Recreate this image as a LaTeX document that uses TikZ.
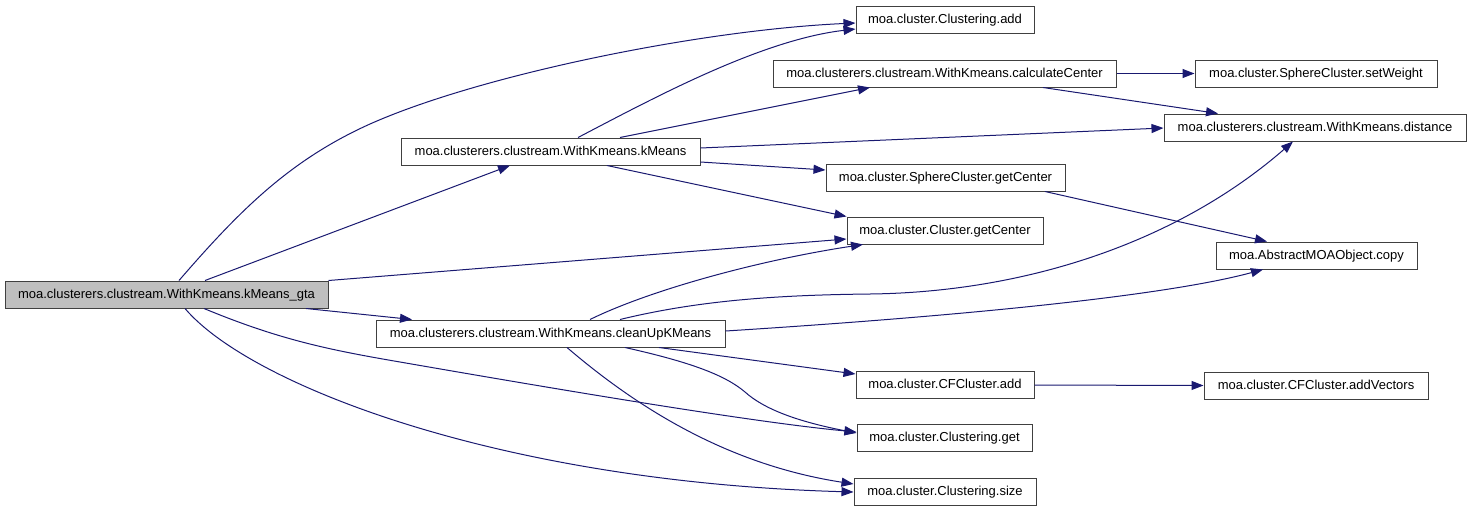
\documentclass[tikz,border=0pt]{standalone}
\usepackage{fontspec}
\setmainfont{Liberation Sans}
\usetikzlibrary{arrows.meta}
\definecolor{edgec}{HTML}{191970}
\definecolor{rootfill}{HTML}{BFBFBF}
\begin{document}
\begin{tikzpicture}[x=1pt,y=-1pt,
  box/.style={draw=black!75,line width=1pt,fill=white,inner sep=0pt,minimum height=27pt,
    text height=10pt,text depth=3pt,font=\fontsize{13}{15}\selectfont},
  root/.style={box,fill=rootfill},
  call/.style={draw=edgec,line width=1pt,-{Triangle[length=12pt,width=9pt]}}]
\useasboundingbox (0,0) rectangle (1472,512);
% nodes
\node[root,minimum width=323pt] (gta) at (166.5,294.5) {moa.clusterers.clustream.WithKmeans.kMeans\_gta};
\node[box,minimum width=178pt] (cadd) at (945,19.5) {moa.cluster.Clustering.add};
\node[box,minimum width=343pt] (calc) at (944.5,73.5) {moa.clusterers.clustream.WithKmeans.calculateCenter};
\node[box,minimum width=242pt] (setw) at (1316,73.5) {moa.cluster.SphereCluster.setWeight};
\node[box,minimum width=299pt] (kmeans) at (550.5,151.5) {moa.clusterers.clustream.WithKmeans.kMeans};
\node[box,minimum width=302pt] (dist) at (1315,127.5) {moa.clusterers.clustream.WithKmeans.distance};
\node[box,minimum width=239pt] (sgc) at (945.5,177.5) {moa.cluster.SphereCluster.getCenter};
\node[box,minimum width=196pt] (cgc) at (945,230.5) {moa.cluster.Cluster.getCenter};
\node[box,minimum width=201pt] (copy) at (1316.5,255.5) {moa.AbstractMOAObject.copy};
\node[box,minimum width=349pt] (clean) at (550.5,333.5) {moa.clusterers.clustream.WithKmeans.cleanUpKMeans};
\node[box,minimum width=178pt] (cfadd) at (945,385) {moa.cluster.CFCluster.add};
\node[box,minimum width=175pt] (cget) at (944.5,438) {moa.cluster.Clustering.get};
\node[box,minimum width=182pt] (csize) at (945,492) {moa.cluster.Clustering.size};
\node[box,minimum width=224pt] (addv) at (1316,385.5) {moa.cluster.CFCluster.addVectors};
% edges from kMeans_gta
\draw[call] ([xshift=12.5pt]gta.north) .. controls (240,210) and (290,160) .. (370,124)
  .. controls (480,75) and (700,30) .. ([yshift=-3.5pt]cadd.west);
\draw[call] ([xshift=38.5pt]gta.north) -- ([xshift=-40.5pt]kmeans.south);
\draw[call] (gta.north east) -- ([yshift=-8.5pt]cgc.west);
\draw[call] ([xshift=139.5pt]gta.south) -- ([xshift=-138.5pt]clean.north);
\draw[call] ([xshift=37.5pt]gta.south) .. controls (280,340) and (330,350) .. (400,362)
  .. controls (550,388) and (750,422) .. ([yshift=6pt]cget.west);
\draw[call] ([xshift=18.5pt]gta.south) .. controls (250,385) and (500,482) .. (csize.west);
% edges from kMeans
\draw[call] ([xshift=27.5pt]kmeans.north) .. controls (650,100) and (760,40) .. ([yshift=-9.5pt]cadd.west);
\draw[call] ([xshift=69.5pt]kmeans.north) -- ([xshift=-74.5pt]calc.south);
\draw[call] ([yshift=3.5pt]kmeans.east) -- ([yshift=-0.5pt]dist.west);
\draw[call] ([yshift=-10.5pt]kmeans.east) -- ([yshift=7.5pt]sgc.west);
\draw[call] ([xshift=56.5pt]kmeans.south) -- (cgc.north west);
% other edges
\draw[call] (calc.east) -- (setw.west);
\draw[call] ([xshift=98.5pt]calc.south) -- ([xshift=-97pt]dist.north);
\draw[call] ([xshift=99.5pt]sgc.south) -- ([xshift=-49.5pt]copy.north);
\draw[call] (cfadd.east) -- (addv.west);
% edges from cleanUpKMeans
\draw[call] ([xshift=39.5pt]clean.north) .. controls (650,290) and (760,260) .. ([xshift=-82pt]cgc.south);
\draw[call] ([xshift=69.5pt]clean.north) .. controls (700,300) and (780,295) .. (870,294)
  .. controls (1030,292) and (1180,240) .. ([xshift=-22pt]dist.south);
\draw[call] ([yshift=2.5pt]clean.east) .. controls (900,320) and (1150,300) .. ([xshift=-53.5pt]copy.south);
\draw[call] ([xshift=108.5pt]clean.south) -- ([yshift=11pt]cfadd.west);
\draw[call] ([xshift=74.5pt]clean.south) .. controls (690,362) and (725,375) .. (745,392)
  .. controls (765,410) and (800,422) .. ([yshift=5pt]cget.west);
\draw[call] ([xshift=16.5pt]clean.south) .. controls (640,410) and (730,465) .. ([yshift=8pt]csize.west);
\end{tikzpicture}
\end{document}
